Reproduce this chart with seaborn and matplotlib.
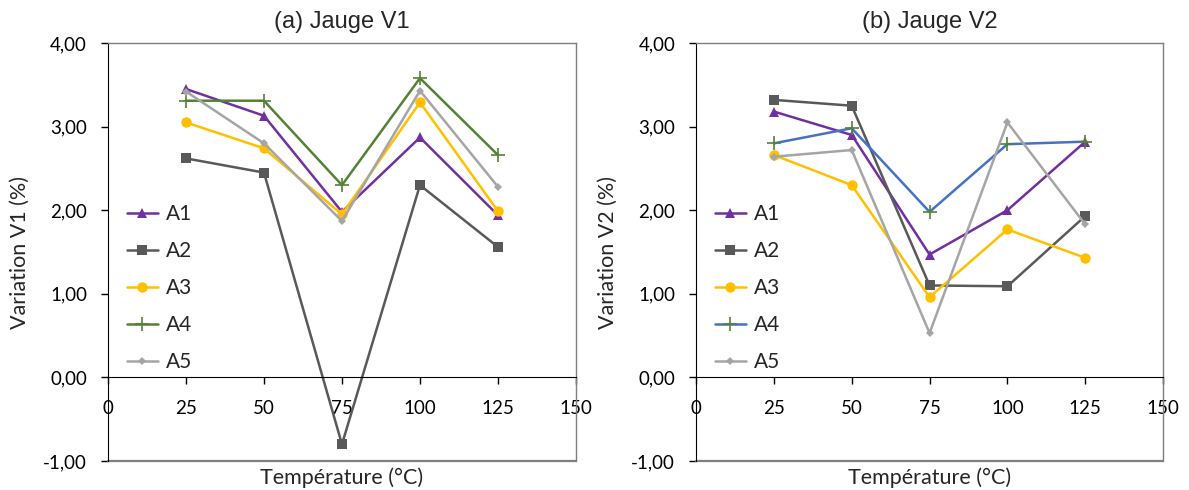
import matplotlib
matplotlib.use("Agg")
import matplotlib.pyplot as plt
import seaborn as sns
from matplotlib.ticker import FuncFormatter

# Data
temps = [25, 50, 75, 100, 125]
labels = ["A1", "A2", "A3", "A4", "A5"]

v1_a1 = [3.45, 3.13, 1.98, 2.87, 1.94]
v1_a2 = [2.62, 2.45, -0.80, 2.30, 1.56]
v1_a3 = [3.05, 2.74, 1.95, 3.29, 1.99]
v1_a4 = [3.31, 3.31, 2.30, 3.58, 2.66]
v1_a5 = [3.42, 2.80, 1.87, 3.43, 2.28]

v2_a1 = [3.18, 2.90, 1.47, 2.00, 2.82]
v2_a2 = [3.32, 3.25, 1.10, 1.09, 1.93]
v2_a3 = [2.66, 2.30, 0.96, 1.77, 1.43]
v2_a4 = [2.80, 2.98, 1.98, 2.79, 2.82]
v2_a5 = [2.64, 2.72, 0.53, 3.05, 1.83]

sns.set_style("white")
plt.rcParams["font.family"] = ["Lato", "DejaVu Sans"]

markers = ["^", "s", "o", "+", "D"]
msizes = [7, 6.5, 7.5, 10, 4.5]
colors_v1 = ["#7030A0", "#595959", "#FFC000", "#548235", "#A5A5A5"]
colors_v2 = ["#7030A0", "#595959", "#FFC000", "#4472C4", "#A5A5A5"]
mcolors_v2 = ["#7030A0", "#595959", "#FFC000", "#548235", "#A5A5A5"]

fig = plt.figure(figsize=(11.89, 4.9), dpi=100)
ax1 = fig.add_axes([0.0908, 0.0592, 0.3936, 0.853])
ax2 = fig.add_axes([0.5854, 0.0592, 0.3928, 0.853])

panels = [
    (ax1, [v1_a1, v1_a2, v1_a3, v1_a4, v1_a5], colors_v1, colors_v1,
     "(a) Jauge V1", "Variation V1 (%)"),
    (ax2, [v2_a1, v2_a2, v2_a3, v2_a4, v2_a5], colors_v2, mcolors_v2,
     "(b) Jauge V2", "Variation V2 (%)"),
]

fmt = FuncFormatter(lambda v, p: f"{v:.2f}".replace(".", ","))

for ax, series, cols, mcols, title, ylab in panels:
    for vals, lab, m, ms, c, mc in zip(series, labels, markers, msizes, cols, mcols):
        sns.lineplot(x=temps, y=vals, ax=ax, label=lab, color=c, marker=m,
                     markersize=ms, markerfacecolor=mc, markeredgecolor=mc,
                     markeredgewidth=1.2 if m == "+" else 0, linewidth=1.8)
    ax.set_xlim(0, 150)
    ax.set_ylim(-1, 4)
    ax.set_xticks([0, 25, 50, 75, 100, 125, 150])
    ax.set_yticks([-1, 0, 1, 2, 3, 4])
    ax.yaxis.set_major_formatter(fmt)
    ax.spines["bottom"].set_position(("data", 0))
    ax.spines["bottom"].set_color("black")
    ax.spines["left"].set_color("black")
    for s in ["top", "right"]:
        ax.spines[s].set_color("#7f7f7f")
        ax.spines[s].set_linewidth(1.0)
    ax.axhline(-1, color="#7f7f7f", linewidth=1.6, clip_on=False)
    ax.tick_params(axis="both", direction="out", length=5, width=1,
                   labelsize=13.5, colors="black", bottom=True, left=True)
    ax.tick_params(axis="y", pad=10)
    ax.tick_params(axis="x", pad=11)
    ax.set_title(title, fontsize=17, family=["Liberation Sans", "DejaVu Sans"], pad=11)
    ax.set_ylabel(ylab, fontsize=15.5)
    ax.yaxis.set_label_coords(-0.188, 0.5)
    ax.yaxis.label.set_va("center")
    ax.set_xlabel("Température (°C)", fontsize=15.5)
    ax.xaxis.set_label_coords(0.5, -0.041)
    ax.xaxis.label.set_va("center")
    ax.legend(loc="upper left", bbox_to_anchor=(0.0, 0.66), frameon=False,
              fontsize=15, labelspacing=0.82, handlelength=1.5, handletextpad=0.4,
              borderaxespad=0.5)

plt.savefig("out.png", dpi=100)
